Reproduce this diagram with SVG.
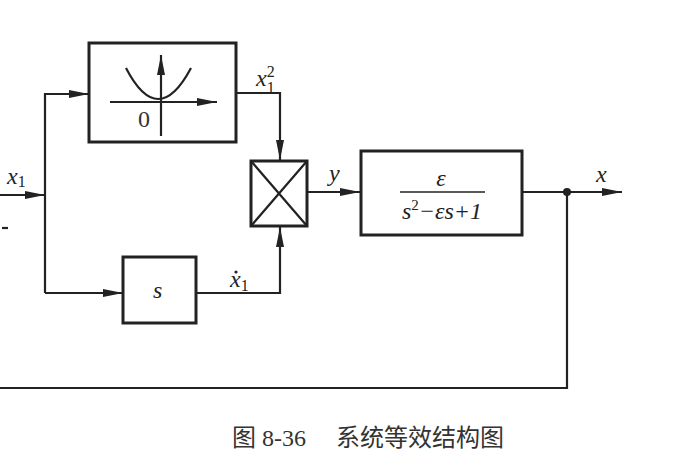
<svg xmlns="http://www.w3.org/2000/svg" width="690" height="460" viewBox="0 0 690 460">
<defs><marker id="a" viewBox="0 0 20 8" refX="20" refY="4" markerWidth="20" markerHeight="8" markerUnits="userSpaceOnUse" orient="auto"><path d="M0,0L20,4L0,8z" fill="#222"/></marker></defs>
<style>.b{fill:#fff;stroke:#222;stroke-width:3}.l{fill:none;stroke:#222;stroke-width:2.2}.t{font-family:'Liberation Serif','Times New Roman','DejaVu Serif',serif;font-style:italic;font-size:24px;fill:#222}.c{font-family:'Liberation Serif','Noto Sans CJK SC',serif;font-size:24px;fill:#333}</style>
<rect width="690" height="460" fill="#fff"/>
<g id="connectors">
<path class="l" d="M0,195H45" marker-end="url(#a)"/>
<path class="l" d="M45,293V94H89" marker-end="url(#a)"/>
<path class="l" d="M45,293H123" marker-end="url(#a)"/>
<path class="l" d="M236,93H280V160" marker-end="url(#a)"/>
<path class="l" d="M196,293H280V227" marker-end="url(#a)"/>
<path class="l" d="M307,192H360" marker-end="url(#a)"/>
<path class="l" d="M522,192H622" marker-end="url(#a)"/>
<path class="l" d="M567,192V388H0"/>
<circle cx="567" cy="192" r="4" fill="#222"/>
<path class="l" d="M2,228H8"/>
</g>
<g id="nonlin"><rect class="b" x="89" y="43" width="147" height="99"/>
<path class="l" d="M110,102H217" marker-end="url(#a)"/><path class="l" d="M161,136V55" marker-end="url(#a)"/>
<path class="l" d="M126,68Q158,130 191,68"/><text class="c" x="138" y="127" font-size="22">0</text></g>
<g id="mult"><rect class="b" x="251" y="161" width="56" height="65"/><path class="l" d="M251,161L307,226M307,161L251,226"/></g>
<g id="sblock"><rect class="b" x="123" y="257" width="73" height="66"/><text class="t" x="153" y="298">s</text></g>
<g id="tf"><rect class="b" x="361" y="151" width="161" height="84"/>
<text class="t" x="441" y="186" text-anchor="middle">ε</text><path d="M400,192H485" stroke="#222" stroke-width="1.5"/>
<text class="t" x="442" y="219" text-anchor="middle">s<tspan dy="-9" font-size="15" font-style="normal">2</tspan><tspan dy="9">−εs+1</tspan></text></g>
<text class="t" x="7" y="184">x<tspan font-size="16" font-style="normal" dy="3">1</tspan></text>
<text class="t" x="256" y="86">x<tspan font-size="16" font-style="normal" dy="-9">2</tspan><tspan font-size="16" font-style="normal" dx="-8" dy="16">1</tspan></text>
<text class="t" x="230" y="287">x<tspan font-size="16" font-style="normal" dy="4">1</tspan></text><circle cx="236" cy="272" r="1.6" fill="#222"/>
<text class="t" x="329" y="181">y</text>
<text class="t" x="596" y="182">x</text>
<text class="c" x="232" y="446">图 8-36　 系统等效结构图</text>
</svg>
